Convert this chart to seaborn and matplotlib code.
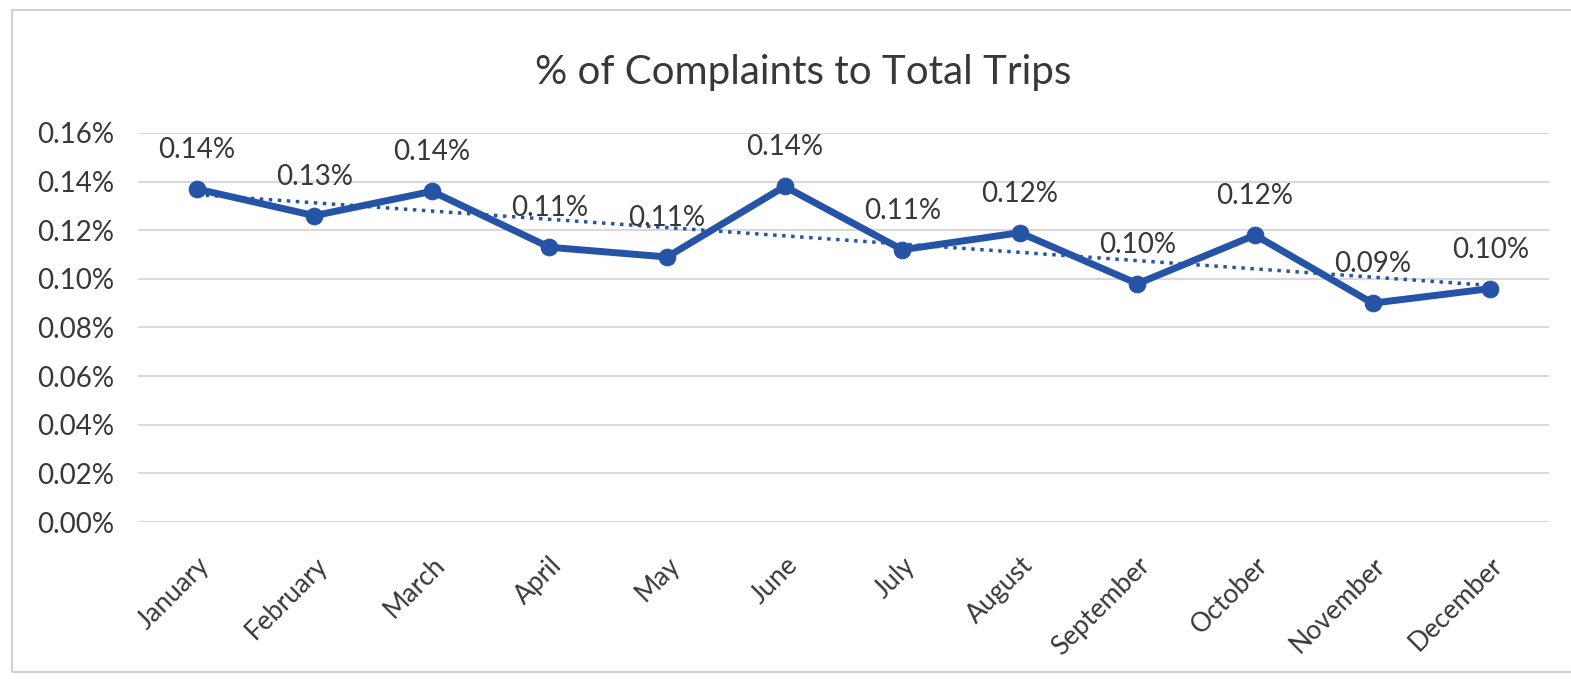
import numpy as np
import pandas as pd
import matplotlib
matplotlib.use("Agg")
import matplotlib.pyplot as plt
import seaborn as sns
from matplotlib.patches import Rectangle
from matplotlib.ticker import FuncFormatter

months = ["January", "February", "March", "April", "May", "June",
          "July", "August", "September", "October", "November", "December"]
# % of complaints to total trips (in percent)
pct_values = [0.137, 0.126, 0.136, 0.113, 0.109, 0.138,
              0.112, 0.119, 0.098, 0.118, 0.090, 0.096]
y_ticks = [0.00, 0.02, 0.04, 0.06, 0.08, 0.10, 0.12, 0.14, 0.16]

blue = "#2553a5"
text_gray = "#383838"

sns.set_theme(style="white")
plt.rcParams['font.family'] = ['Lato', 'DejaVu Sans']

df = pd.DataFrame({"month": months, "pct": pct_values})
df["pos"] = np.arange(len(df))

fig = plt.figure(figsize=(15.71, 6.82), dpi=100)
ax = fig.add_axes([0.0878, 0.2346, 0.8982, 0.5704])

# chart border
fig.patches.append(Rectangle((12 / 1571, 10 / 682), 1.0, 662 / 682,
                             transform=fig.transFigure, fill=False,
                             edgecolor="#d0d0d0", linewidth=1.5))

# linear trendline
slope, intercept = np.polyfit(df["pos"], df["pct"], 1)
df["trend"] = slope * df["pos"] + intercept
sns.lineplot(data=df, x="pos", y="trend", ax=ax, color=blue,
             linestyle=(0, (1, 1.6)), linewidth=2.5, zorder=2)

sns.lineplot(data=df, x="pos", y="pct", ax=ax, color=blue, linewidth=5,
             marker="o", markersize=12, markeredgecolor=blue, zorder=3)

for _, row in df.iterrows():
    ax.annotate(f"{row['pct']:.2f}%", (row["pos"], row["pct"]),
                xytext=(0, 39), textcoords="offset pixels",
                ha="center", va="center", fontsize=20, color=text_gray, zorder=4)

ax.set_xlim(-0.5, len(months) - 0.5)
ax.set_ylim(0, 0.16)
ax.set_yticks(y_ticks)
ax.yaxis.set_major_formatter(FuncFormatter(lambda v, p: f"{v:.2f}%"))
ax.set_xticks(df["pos"])
ax.set_xticklabels(months, rotation=45, ha="right", rotation_mode="anchor")
ax.tick_params(axis="y", labelsize=20, labelcolor=text_gray, length=0, pad=17)
ax.tick_params(axis="x", labelsize=19, labelcolor=text_gray, length=0, pad=22)
ax.grid(axis="y", color="#d9d9d9", linewidth=1.5)
ax.grid(axis="x", visible=False)
sns.despine(ax=ax, left=True, bottom=True)
ax.set_xlabel("")
ax.set_ylabel("")

fig.text(0.511, 0.893, "% of Complaints to Total Trips", ha="center", va="center",
         fontsize=29, color=text_gray)

fig.savefig("out.png", dpi=100)
